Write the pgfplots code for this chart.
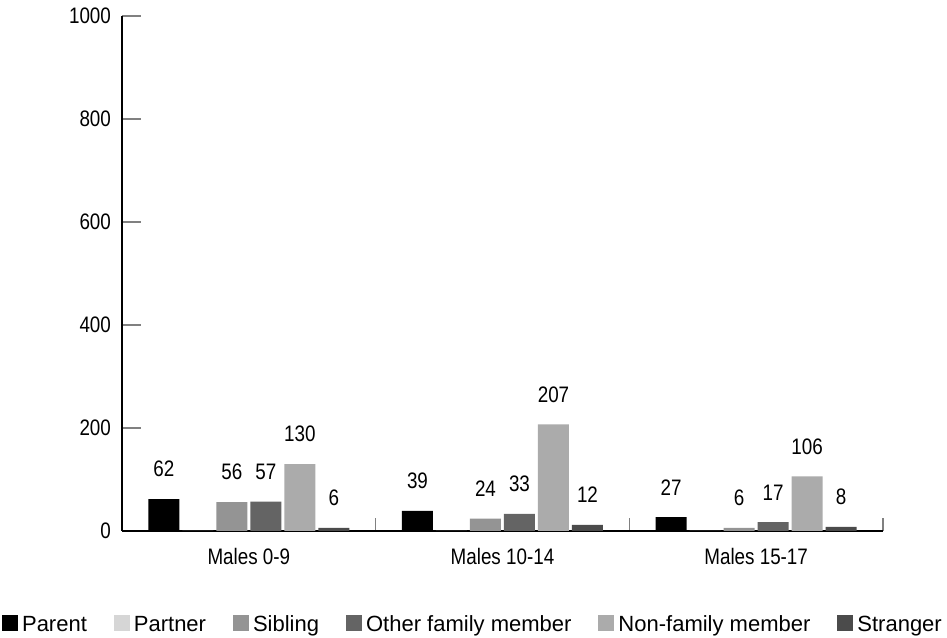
\documentclass[border=0pt]{standalone}
\usepackage{pgfplots}
\pgfplotsset{compat=1.18}
\usepackage{pgfplotstable}
\usepackage{fontspec}
\setmainfont{Liberation Sans}
\newfontfamily\condfont[FakeStretch=0.84]{Liberation Sans}
\definecolor{cPartner}{HTML}{D6D6D6}
\definecolor{cSibling}{HTML}{949494}
\definecolor{cOther}{HTML}{646464}
\definecolor{cNon}{HTML}{ABABAB}
\definecolor{cStr}{HTML}{4B4B4B}
\pgfplotsset{mybar/.style={fill=#1, draw=none,
  legend image code/.code={\fill[fill=#1] (0pt,-2.6pt) rectangle (8pt,5.2pt);}}}
\pgfplotstableread{
g parent partner sibling other nonfam stranger
0 62 0 56 57 130 6
1 39 0 24 33 207 12
2 27 0 6 17 106 8
}\data
\begin{document}
\begin{tikzpicture}[font=\fontsize{11}{13}\selectfont]
\begin{axis}[
  ybar, bar width=15.5pt,
  scale only axis, width=380.5pt, height=257.5pt,
  xmin=-0.5, xmax=2.5, ymin=0, ymax=1000,
  axis x line=bottom, axis y line=left,
  axis line style={-, line width=0.6pt},
  xtick={0,1,2}, xticklabels={Males 0-9, Males 10-14, Males 15-17},
  major x tick style={draw=none},
  minor xtick={-0.5,0.5,1.5,2.5},
  minor x tick style={line width=0.6pt},
  x tick label style={yshift=-5pt},
  tick label style={font=\condfont\fontsize{11.2}{13}\selectfont},
  ytick={0,200,...,1000},
  tick align=inside,
  y tick style={line width=0.6pt},
  major tick length=9.5pt,
  minor tick length=6.5pt,
  yticklabel style={xshift=-2pt},
  /pgf/number format/assume math mode=true,
  /pgf/number format/1000 sep={},
  scaled y ticks=false,
  clip=false,
  nodes near coords,
  every node near coord/.append style={font=\condfont\fontsize{11.2}{13}\selectfont, yshift=7.5pt},
  legend style={at={(rel axis cs:0.4625,-0.184)}, anchor=center, draw=none, fill=none,
    legend columns=-1, font=\fontsize{11}{13}\selectfont,
    nodes={text height=1.6ex, text depth=0.45ex},
    /tikz/every even column/.append style={column sep=11.5pt}},
]
\addplot[mybar=black, bar shift=-42.5pt] table[x=g,y=parent]{\data};
\addplot[mybar=cPartner, bar shift=-25.5pt, nodes near coords=\empty] table[x=g,y=partner]{\data};
\addplot[mybar=cSibling, bar shift=-8.5pt] table[x=g,y=sibling]{\data};
\addplot[mybar=cOther, bar shift=8.5pt] table[x=g,y=other]{\data};
\addplot[mybar=cNon, bar shift=25.5pt] table[x=g,y=nonfam]{\data};
\addplot[mybar=cStr, bar shift=42.5pt] table[x=g,y=stranger]{\data};
\legend{Parent, Partner, Sibling, Other family member, Non-family member, Stranger}
\coordinate (bl) at (rel axis cs:-0.1603,-0.2078);
\coordinate (tr) at (rel axis cs:1.0841,1.031);
\end{axis}
\pgfresetboundingbox
\path (bl) rectangle (tr);
\end{tikzpicture}
\end{document}
